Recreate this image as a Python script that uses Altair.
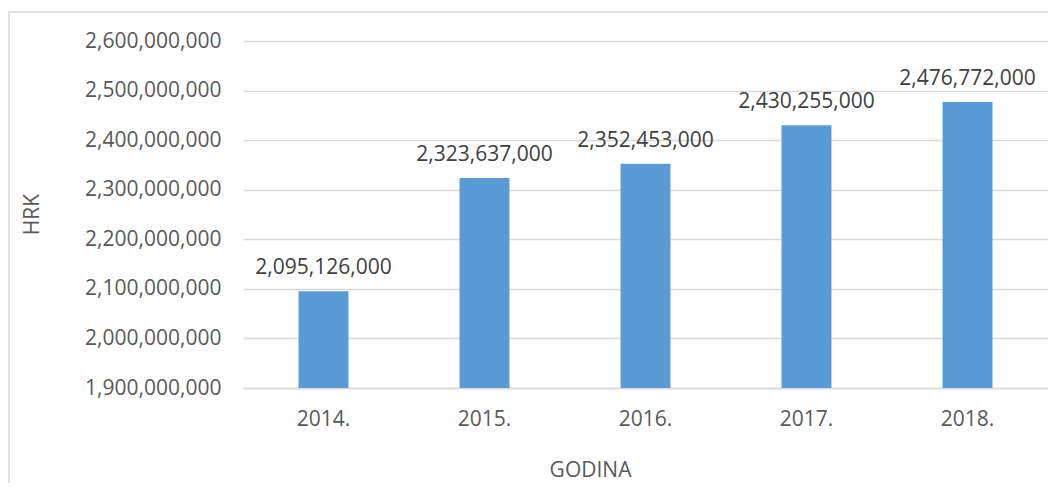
import altair as alt
import pandas as pd

years = ["2014.", "2015.", "2016.", "2017.", "2018."]
values = [2095126000, 2323637000, 2352453000, 2430255000, 2476772000]
y_ticks = [1900000000, 2000000000, 2100000000, 2200000000, 2300000000, 2400000000, 2500000000, 2600000000]

df = pd.DataFrame({"godina": years, "hrk": values})

FONT = "Open Sans"
W, H = 805, 347

frame = alt.Chart(pd.DataFrame({"a": [0]})).mark_rect(
    fill=None, stroke="#D9D9D9", strokeWidth=1.5
).encode(
    x=alt.value(-234), x2=alt.value(W + 60),
    y=alt.value(-29), y2=alt.value(H + 200)
)

base = alt.Chart(df).encode(
    x=alt.X("godina:N", sort=years,
            scale=alt.Scale(paddingInner=0.69, paddingOuter=0.345),
            axis=alt.Axis(title="GODINA", labelAngle=0, labelPadding=20,
                          domainColor="#D9D9D9", domainWidth=1.5, ticks=False,
                          titleX=347, titleY=82, titleBaseline="middle",
                          titleAnchor="start", titleAlign="center")),
    y=alt.Y("hrk:Q", scale=alt.Scale(domain=[1900000000, 2600000000], nice=False, zero=False),
            axis=alt.Axis(title="HRK", values=y_ticks, format=",.0f", labelPadding=22,
                          domain=False, ticks=False, gridColor="#D9D9D9", gridWidth=1.5,
                          titleX=-211, titleY=173, titleAngle=-90,
                          titleBaseline="middle", titleAlign="center"))
)

bars = base.mark_bar(color="#5B9BD5", clip=True)

labels = base.mark_text(baseline="bottom", dy=-13, font=FONT, fontSize=21, color="#404040").encode(
    text=alt.Text("hrk:Q", format=",.0f")
)

chart = alt.layer(frame, bars, labels).properties(
    width=W, height=H,
    autosize=alt.AutoSizeParams(type="none"),
    padding={"left": 235, "top": 33, "right": 0, "bottom": 95}
).configure_view(stroke=None).configure_axis(
    labelFont=FONT, titleFont=FONT, labelFontSize=21, titleFontSize=21,
    labelColor="#595959", titleColor="#595959", titleFontWeight="normal"
)

chart.save("out.html", embed_options={"renderer": "svg", "actions": False})
